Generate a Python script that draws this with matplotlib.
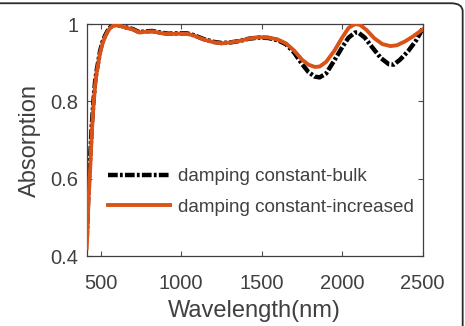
import matplotlib
matplotlib.use("Agg")
import matplotlib.pyplot as plt
from matplotlib.patches import FancyBboxPatch

plt.rcParams['font.family'] = ['Liberation Sans', 'DejaVu Sans']
plt.rcParams['lines.scale_dashes'] = False

# wavelength (nm) / absorption
wl_inc = [413, 418, 425, 434, 445, 455, 465, 475, 486, 496, 510, 527, 545, 560,
          580, 600, 630, 660, 700, 740, 780, 820, 870, 920, 980, 1035, 1080,
          1140, 1200, 1250, 1300, 1360, 1420, 1480, 1540, 1600, 1650, 1700,
          1750, 1790, 1830, 1860, 1900, 1950, 2000, 2040, 2080, 2110, 2150,
          2200, 2250, 2300, 2340, 2390, 2440, 2500]
abs_inc = [0.42, 0.47, 0.55, 0.62, 0.72, 0.79, 0.84, 0.875, 0.90, 0.925, 0.948,
           0.967, 0.982, 0.990, 0.996, 0.997, 0.994, 0.990, 0.986, 0.978,
           0.980, 0.981, 0.977, 0.974, 0.975, 0.975, 0.970, 0.960, 0.953,
           0.950, 0.952, 0.956, 0.962, 0.966, 0.965, 0.960, 0.950, 0.932,
           0.908, 0.895, 0.889, 0.890, 0.902, 0.930, 0.965, 0.990, 1.000,
           0.998, 0.985, 0.963, 0.948, 0.943, 0.945, 0.955, 0.968, 0.986]

wl_bulk = [413, 418, 425, 434, 445, 455, 465, 475, 486, 496, 510, 527, 545, 560,
           580, 600, 630, 660, 700, 740, 780, 820, 870, 920, 980, 1035, 1080,
           1140, 1200, 1250, 1300, 1360, 1420, 1480, 1540, 1600, 1650, 1700,
           1750, 1790, 1830, 1860, 1900, 1950, 2000, 2040, 2080, 2100, 2140,
           2190, 2240, 2290, 2320, 2360, 2410, 2460, 2500]
abs_bulk = [0.44, 0.50, 0.58, 0.65, 0.74, 0.80, 0.85, 0.88, 0.905, 0.93, 0.952,
            0.970, 0.984, 0.992, 0.997, 0.998, 0.995, 0.991, 0.987, 0.979,
            0.981, 0.982, 0.978, 0.975, 0.976, 0.976, 0.971, 0.961, 0.954,
            0.951, 0.952, 0.956, 0.962, 0.965, 0.964, 0.958, 0.948, 0.927,
            0.897, 0.876, 0.864, 0.862, 0.872, 0.905, 0.940, 0.965, 0.978,
            0.978, 0.965, 0.938, 0.912, 0.896, 0.895, 0.908, 0.930, 0.958,
            0.988]

xticks = [500, 1000, 1500, 2000, 2500]
yticks = [0.4, 0.6, 0.8, 1.0]
ytick_labels = ['0.4', '0.6', '0.8', '1']

txt = '#404040'

fig = plt.figure(figsize=(4.65, 3.26), dpi=100)
ax = fig.add_axes([0.1864, 0.2147, 0.7226, 0.7116])

# rounded outer frame, partly off-canvas like the cropped source
frame = FancyBboxPatch((-0.05, -0.08), 1.045, 1.07, transform=fig.transFigure,
                       boxstyle='round,pad=0,rounding_size=0.025',
                       fill=False, edgecolor='#2a2a2a', linewidth=1.3)
fig.patches.append(frame)

ax.plot(wl_bulk, abs_bulk, color='black', linewidth=3.2,
        dashes=(7, 1.6, 2, 1.6), label='damping constant-bulk', zorder=2)
ax.plot(wl_inc, abs_inc, color='#D95319', linewidth=2.8,
        label='damping constant-increased', zorder=3)

ax.set_xlim(413, 2500)
ax.set_ylim(0.4, 1.0)
ax.set_xticks(xticks)
ax.set_yticks(yticks)
ax.set_yticklabels(ytick_labels)

ax.tick_params(direction='in', length=3.5, width=0.8, colors='#505050',
               labelcolor=txt, labelsize=14.5, top=True, right=True)
ax.tick_params(axis='x', pad=13)
ax.tick_params(axis='y', pad=6)
for s in ax.spines.values():
    s.set_color('#404040')
    s.set_linewidth(0.9)

ax.set_xlabel('Wavelength(nm)', fontsize=17, color=txt, labelpad=5)
ax.set_ylabel('Absorption', fontsize=17, color=txt, labelpad=7)

leg = ax.legend(loc='lower left', bbox_to_anchor=(0.012, 0.10), frameon=False,
                fontsize=13.6, handlelength=3.3, handletextpad=0.4,
                labelspacing=0.7)
for t in leg.get_texts():
    t.set_color(txt)

fig.savefig('out.png', dpi=100)
